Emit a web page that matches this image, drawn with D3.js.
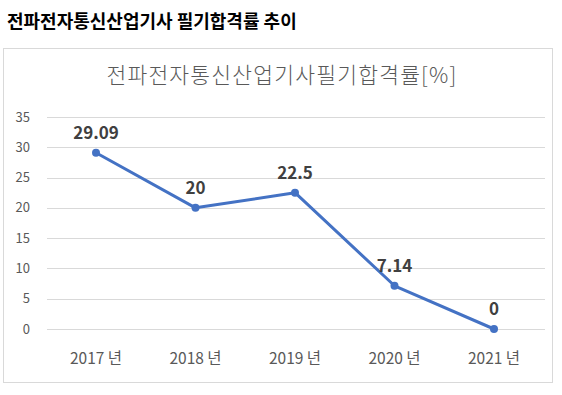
<!DOCTYPE html>
<html>
<head>
<meta charset="utf-8">
<script src="https://cdn.jsdelivr.net/npm/d3@7"></script>
<style>
  body { margin: 0; background: #fff; }
  svg text { font-family: "Noto Sans CJK KR", "Noto Sans", sans-serif; }
</style>
</head>
<body>
<svg id="chart" width="562" height="395"></svg>
<script>
// data
var years = ["2017 년", "2018 년", "2019 년", "2020 년", "2021 년"];
var passRates = [29.09, 20, 22.5, 7.14, 0];
var yTicks = [0, 5, 10, 15, 20, 25, 30, 35];

var svg = d3.select("#chart");

// page heading
svg.append("text")
  .attr("x", 7).attr("y", 28)
  .attr("font-size", 18).attr("font-weight", "bold")
  .attr("fill", "#000")
  .text("전파전자통신산업기사 필기합격률 추이");

// chart frame
svg.append("rect")
  .attr("x", 3.5).attr("y", 48.5)
  .attr("width", 549).attr("height", 334)
  .attr("fill", "#fff").attr("stroke", "#d9d9d9");

// chart title
svg.append("text")
  .attr("x", 282).attr("y", 83)
  .attr("text-anchor", "middle")
  .attr("font-size", 21.5).attr("font-weight", 300)
  .attr("letter-spacing", 1.2)
  .attr("fill", "#595959")
  .text("전파전자통신산업기사필기합격률[%]");

var x = d3.scalePoint().domain(years).range([96, 494]);
var y = d3.scaleLinear().domain([0, 35]).range([329, 117]);

// gridlines
svg.append("g").selectAll("line")
  .data(yTicks).join("line")
  .attr("x1", 47).attr("x2", 545)
  .attr("y1", function (d) { return Math.round(y(d)) + 0.5; })
  .attr("y2", function (d) { return Math.round(y(d)) + 0.5; })
  .attr("stroke", "#d9d9d9").attr("stroke-width", 1);

// y axis labels
svg.append("g").selectAll("text")
  .data(yTicks).join("text")
  .attr("x", 30).attr("y", function (d) { return y(d) + 4.5; })
  .attr("text-anchor", "end")
  .attr("font-size", 13).attr("fill", "#595959")
  .text(function (d) { return d; });

// x axis labels
svg.append("g").selectAll("text")
  .data(years).join("text")
  .attr("x", function (d) { return x(d); })
  .attr("y", 364)
  .attr("text-anchor", "middle")
  .attr("font-size", 15.5).attr("fill", "#595959")
  .text(function (d) { return d; });

var pts = years.map(function (d, i) { return { year: d, v: passRates[i] }; });

// line
svg.append("path")
  .datum(pts)
  .attr("fill", "none")
  .attr("stroke", "#4472c4").attr("stroke-width", 3)
  .attr("stroke-linejoin", "round")
  .attr("d", d3.line()
    .x(function (d) { return x(d.year); })
    .y(function (d) { return y(d.v); }));

// markers
svg.append("g").selectAll("circle")
  .data(pts).join("circle")
  .attr("cx", function (d) { return x(d.year); })
  .attr("cy", function (d) { return y(d.v); })
  .attr("r", 4)
  .attr("fill", "#4472c4");

// data labels
svg.append("g").selectAll("text")
  .data(pts).join("text")
  .attr("x", function (d) { return x(d.year); })
  .attr("y", function (d) { return y(d.v) - 14; })
  .attr("text-anchor", "middle")
  .attr("font-size", 17).attr("font-weight", "bold")
  .attr("fill", "#404040")
  .text(function (d) { return d.v; });
</script>
</body>
</html>
